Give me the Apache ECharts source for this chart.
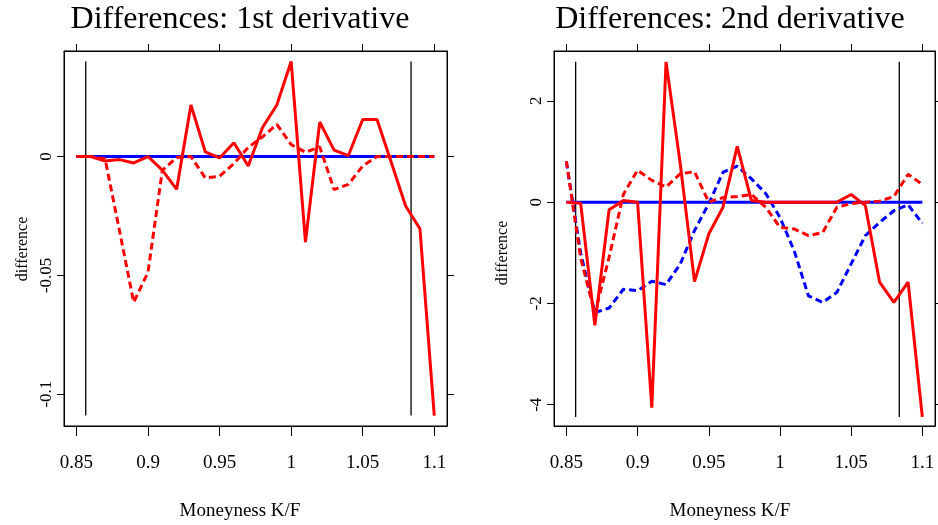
<!DOCTYPE html>
<html>
<head>
    <meta charset="utf-8">
    <script src="https://cdnjs.cloudflare.com/ajax/libs/echarts/6.0.0/echarts.min.js"></script>
</head>
<body>
    <div id="main"></div>
    <style>
html,body { margin: 0; padding: 0; background: #fff; }
#main { width: 938px; height: 525px; }
    </style>
    <script type="text/javascript">
// moneyness grid K/F
var moneyness = [0.85, 0.86, 0.87, 0.88, 0.89, 0.90, 0.91, 0.92, 0.93, 0.94, 0.95, 0.96, 0.97,
                 0.98, 0.99, 1.00, 1.01, 1.02, 1.03, 1.04, 1.05, 1.06, 1.07, 1.08, 1.09, 1.10];

// panel 1: differences of the 1st derivative
var d1BlueSolid  = [0, 0, 0, 0, 0, 0, 0, 0, 0, 0, 0, 0, 0, 0, 0, 0, 0, 0, 0, 0, 0, 0, 0, 0, 0, 0];
var d1BlueDashed = [0, 0, 0, 0, 0, 0, 0, 0, 0, 0, 0, 0, 0, 0, 0, 0, 0, 0, 0, 0, 0, 0, 0, 0, 0, 0];
var d1RedSolid   = [0, 0, -0.0019, -0.0013, -0.0027, 0, -0.0057, -0.0138, 0.0217, 0.0020, -0.0006,
                    0.0058, -0.0040, 0.0122, 0.0217, 0.0400, -0.0360, 0.0145, 0.0027, 0.0004,
                    0.0156, 0.0156, -0.0025, -0.0208, -0.0304, -0.1090];
var d1RedDashed  = [0, 0, -0.0010, -0.0310, -0.0613, -0.0487, -0.0058, -0.0004, 0, -0.0090, -0.0083,
                    -0.0030, 0.0038, 0.0083, 0.0135, 0.0050, 0.0018, 0.0040, -0.0139, -0.0117,
                    -0.0040, 0, 0, 0, 0, 0];

// panel 2: differences of the 2nd derivative
var d2BlueSolid  = [0, 0, 0, 0, 0, 0, 0, 0, 0, 0, 0, 0, 0, 0, 0, 0, 0, 0, 0, 0, 0, 0, 0, 0, 0, 0];
var d2BlueDashed = [0.80, -1.00, -2.18, -2.09, -1.72, -1.75, -1.56, -1.63, -1.22, -0.56, -0.03,
                    0.59, 0.71, 0.46, 0.17, -0.30, -0.96, -1.85, -1.98, -1.78, -1.22, -0.66,
                    -0.40, -0.17, -0.05, -0.42];
var d2RedSolid   = [0, -0.02, -2.43, -0.15, 0.03, 0, -4.06, 2.77, 0.75, -1.57, -0.63, -0.10,
                    1.10, 0.03, 0, 0, 0, 0, 0, 0, 0.15, -0.07, -1.58, -1.98, -1.58, -4.24];
var d2RedDashed  = [0.81, -1.10, -2.20, -1.09, 0.15, 0.63, 0.43, 0.30, 0.56, 0.60, 0, 0.09, 0.11,
                    0.15, -0.10, -0.50, -0.53, -0.66, -0.60, -0.10, -0.03, 0, 0.02, 0.11, 0.55, 0.35];

// ticks and reference lines
var xTicks = [0.85, 0.9, 0.95, 1, 1.05, 1.1];
var d1YTicks = [-0.1, -0.05, 0];
var d2YTicks = [-4, -2, 0, 2];
var vLinesX = [0.8565, 1.0838];

var FONT = 'Liberation Serif';
var X_MIN = 0.8413, X_MAX = 1.1089;

function pairs(arr) {
    return moneyness.map(function (x, i) { return [x, arr[i]]; });
}

function xAxes(gridIndex) {
    var base = {
        type: 'value', gridIndex: gridIndex, min: X_MIN, max: X_MAX,
        splitLine: { show: false },
        axisLine: { show: true, onZero: false, lineStyle: { color: '#000', width: 1 } }
    };
    return [
        Object.assign({}, base, {
            position: 'bottom',
            axisTick: { inside: false, length: 10, customValues: xTicks, lineStyle: { color: '#000' } },
            axisLabel: { customValues: xTicks, margin: 28, fontFamily: FONT, fontSize: 19, color: '#000',
                         formatter: function (v) { return String(v); } }
        }),
        Object.assign({}, base, {
            position: 'top',
            axisTick: { inside: false, length: 7, customValues: xTicks, lineStyle: { color: '#000' } },
            axisLabel: { show: false }
        })
    ];
}

function yAxes(gridIndex, min, max, ticks) {
    var base = {
        type: 'value', gridIndex: gridIndex, min: min, max: max,
        splitLine: { show: false },
        axisLine: { show: true, onZero: false, lineStyle: { color: '#000', width: 1 } }
    };
    return [
        Object.assign({}, base, {
            position: 'left',
            axisTick: { inside: false, length: 7, customValues: ticks, lineStyle: { color: '#000' } },
            axisLabel: { customValues: ticks, rotate: 90, margin: 9, fontFamily: FONT, fontSize: 17,
                         color: '#000', formatter: function (v) { return String(v); } }
        }),
        Object.assign({}, base, {
            position: 'right',
            axisTick: { inside: false, length: 7, customValues: ticks, lineStyle: { color: '#000' } },
            axisLabel: { show: false }
        })
    ];
}

function panelSeries(xi, yi, blueSolid, blueDashed, redSolid, redDashed) {
    var all = blueSolid.concat(blueDashed, redSolid, redDashed);
    var lo = Math.min.apply(null, all), hi = Math.max.apply(null, all);
    var s = [];
    vLinesX.forEach(function (x) {
        s.push({ type: 'line', xAxisIndex: xi, yAxisIndex: yi, data: [[x, lo], [x, hi]],
                 showSymbol: false, silent: true, lineStyle: { color: '#000', width: 1.3 } });
    });
    var lines = [
        [blueSolid, '#0000ff', 'solid'],
        [blueDashed, '#0000ff', [7, 4]],
        [redSolid, '#ff0000', 'solid'],
        [redDashed, '#ff0000', [7, 4]]
    ];
    lines.forEach(function (l) {
        s.push({ type: 'line', xAxisIndex: xi, yAxisIndex: yi, data: pairs(l[0]),
                 showSymbol: false, smooth: false,
                 lineStyle: { color: l[1], width: 3, type: l[2] } });
    });
    return s;
}

function label(text, x, y, size, rot) {
    return { type: 'text', x: x, y: y, rotation: rot || 0,
             style: { text: text, fontFamily: FONT, fontSize: size, fill: '#000',
                      align: 'center', verticalAlign: 'middle' } };
}

var chart = echarts.init(document.getElementById('main'), null, { renderer: 'canvas' });
chart.setOption({
    animation: false,
    backgroundColor: '#fff',
    grid: [
        { left: 64, top: 51, width: 383, height: 375, show: true, borderColor: '#000', borderWidth: 1,
          outerBoundsMode: 'none' },
        { left: 554, top: 51, width: 381, height: 375, show: true, borderColor: '#000', borderWidth: 1,
          outerBoundsMode: 'none' }
    ],
    xAxis: xAxes(0).concat(xAxes(1)),
    yAxis: yAxes(0, -0.1134, 0.0444, d1YTicks).concat(yAxes(1, -4.42, 2.984, d2YTicks)),
    series: panelSeries(0, 0, d1BlueSolid, d1BlueDashed, d1RedSolid, d1RedDashed)
        .concat(panelSeries(2, 2, d2BlueSolid, d2BlueDashed, d2RedSolid, d2RedDashed)),
    graphic: [
        label('Differences: 1st derivative', 240, 20, 32),
        label('Differences: 2nd derivative', 730, 20, 32),
        label('Moneyness K/F', 240, 511, 19),
        label('Moneyness K/F', 730, 511, 19),
        label('difference', 23, 249, 16, Math.PI / 2),
        label('difference', 503, 253, 16, Math.PI / 2)
    ]
});
    </script>
</body>
</html>
